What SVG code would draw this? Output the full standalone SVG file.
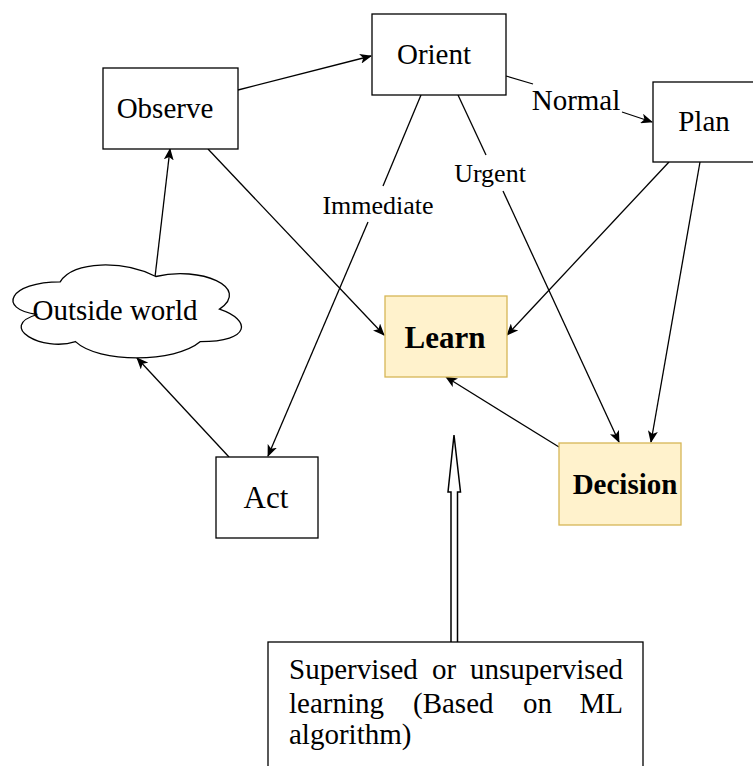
<svg xmlns="http://www.w3.org/2000/svg" width="753" height="766" viewBox="0 0 753 766">
  <style>
    .box { fill: #ffffff; stroke: #000000; stroke-width: 1.3; }
    .hl { fill: #fff2cc; stroke: #d6b656; stroke-width: 1.3; }
    .t { font-family: 'Liberation Serif', Tinos, 'Times New Roman', Times, 'DejaVu Serif', serif; font-size: 29px; fill: #000000; }
    .b { font-weight: bold; }
    .lbl { font-family: 'Liberation Serif', Tinos, 'Times New Roman', Times, 'DejaVu Serif', serif; font-size: 26px; fill: #000000; }
    .edge { fill: none; stroke: #000000; stroke-width: 1.3; }
  </style>
  <defs>
    <marker id="arr" viewBox="0 0 12 10" refX="11" refY="5" markerWidth="12" markerHeight="10" markerUnits="userSpaceOnUse" orient="auto">
      <path d="M0,0 L12,5 L0,10 L3,5 Z" fill="#000000"/>
    </marker>
  </defs>

  <rect width="753" height="766" fill="#ffffff"/>

  <g id="connectors">
    <!-- Observe to Orient -->
    <line class="edge" x1="238" y1="90" x2="371" y2="56" marker-end="url(#arr)"/>
    <!-- Orient to Plan (Normal) -->
    <line class="edge" x1="506" y1="76" x2="533" y2="84"/>
    <line class="edge" x1="622" y1="112" x2="652" y2="122" marker-end="url(#arr)"/>
    <!-- Orient to Act (Immediate) -->
    <line class="edge" x1="421" y1="95" x2="383" y2="186"/>
    <line class="edge" x1="368" y1="222" x2="268" y2="456" marker-end="url(#arr)"/>
    <!-- Orient to Decision (Urgent) -->
    <line class="edge" x1="458" y1="95" x2="486" y2="155"/>
    <line class="edge" x1="503" y1="191" x2="619" y2="442" marker-end="url(#arr)"/>
    <!-- Observe to Learn -->
    <line class="edge" x1="208" y1="149" x2="384" y2="335" marker-end="url(#arr)"/>
    <!-- Plan to Learn -->
    <line class="edge" x1="669" y1="162" x2="507" y2="335" marker-end="url(#arr)"/>
    <!-- Plan to Decision -->
    <line class="edge" x1="700" y1="162" x2="651" y2="442" marker-end="url(#arr)"/>
    <!-- Decision to Learn -->
    <line class="edge" x1="559" y1="447" x2="446" y2="377" marker-end="url(#arr)"/>
    <!-- Outside world to Observe -->
    <line class="edge" x1="155" y1="277" x2="170" y2="149" marker-end="url(#arr)"/>
    <!-- Act to Outside world -->
    <line class="edge" x1="229" y1="457" x2="137" y2="358" marker-end="url(#arr)"/>
    <!-- ML box to Learn (hollow link arrow) -->
    <path d="M451,642 L451,492 L448,492 L454,435 L460.5,492 L457.5,492 L457.5,642" fill="#ffffff" stroke="#000000" stroke-width="1.5" stroke-linejoin="miter"/>
    <!-- edge labels -->
    <text class="t" x="576" y="110" text-anchor="middle">Normal</text>
    <text class="lbl" x="378" y="214" text-anchor="middle">Immediate</text>
    <text class="lbl" x="490" y="182" text-anchor="middle">Urgent</text>
  </g>

  <g id="observe">
    <rect class="box" x="103" y="68" width="135" height="81"/>
    <text class="t" x="165" y="118" text-anchor="middle">Observe</text>
  </g>

  <g id="orient">
    <rect class="box" x="372" y="14" width="134" height="81"/>
    <text class="t" x="434" y="64" text-anchor="middle">Orient</text>
  </g>

  <g id="plan">
    <rect class="box" x="653" y="82" width="120" height="80"/>
    <text class="t" x="704" y="131" text-anchor="middle">Plan</text>
  </g>

  <g id="outside-world">
    <path class="box" d="M60.2,281.9 C9.2,281.9 -3.6,309.1 37.2,314.5 C-3.6,326.4 42.3,352.5 75.5,341.6 C98.4,363.3 174.9,363.3 200.4,341.6 C251.4,341.6 251.4,319.9 219.5,309.1 C251.4,287.4 200.4,265.7 155.8,276.5 C123.9,260.3 72.9,260.3 60.2,281.9 Z"/>
    <text class="t" x="115" y="320" text-anchor="middle">Outside world</text>
  </g>

  <g id="act">
    <rect class="box" x="216" y="457" width="102" height="81"/>
    <text class="t" x="266" y="508" text-anchor="middle" style="font-size:31px">Act</text>
  </g>

  <g id="learn">
    <rect class="hl" x="385" y="296" width="122" height="81"/>
    <text class="t b" x="445" y="348" text-anchor="middle" style="font-size:31px">Learn</text>
  </g>

  <g id="decision">
    <rect class="hl" x="559" y="443" width="122" height="82"/>
    <text class="t b" x="625" y="494" text-anchor="middle">Decision</text>
  </g>

  <g id="ml-method">
    <rect class="box" x="268" y="642" width="375" height="140"/>
    <text class="t" x="289" y="679">Supervised</text>
    <text class="t" x="432" y="679">or</text>
    <text class="t" x="623" y="679" text-anchor="end">unsupervised</text>
    <text class="t" x="289" y="713">learning</text>
    <text class="t" x="413" y="713">(Based</text>
    <text class="t" x="523" y="713">on</text>
    <text class="t" x="623" y="713" text-anchor="end">ML</text>
    <text class="t" x="289" y="744">algorithm)</text>
  </g>
</svg>
